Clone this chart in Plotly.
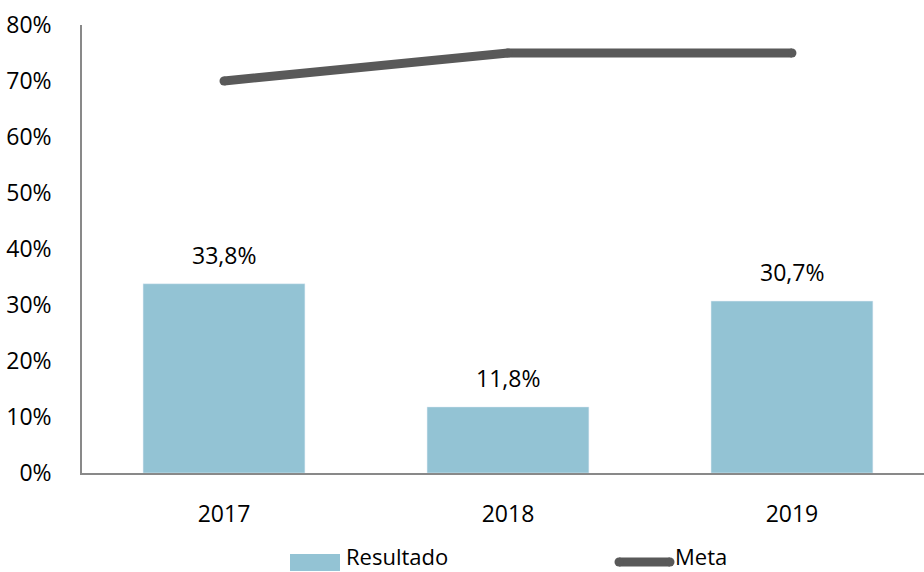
import plotly.graph_objects as go

years = ["2017", "2018", "2019"]
resultado = [33.8, 11.8, 30.7]
meta = [70, 75, 75]
y_ticks = [0, 10, 20, 30, 40, 50, 60, 70, 80]
y_tick_labels = ["0%", "10%", "20%", "30%", "40%", "50%", "60%", "70%", "80%"]

FONT = "Open Sans"
FS = 23
LEG_FS = 22
BAR_COLOR = "#93C3D4"
LINE_COLOR = "#595959"

W, H = 924, 572
L, T, B_AX, R_AX = 82, 25, 473, 924
PW, PH = R_AX - L, B_AX - T


def px(x):
    return (x - L) / PW


def py(y):
    return (B_AX - y) / PH


fig = go.Figure()
fig.add_trace(go.Bar(x=[0, 1, 2], y=resultado, name="Resultado", marker_color=BAR_COLOR,
                     width=0.57, showlegend=False))
fig.add_trace(go.Scatter(x=[0, 1, 2], y=meta, name="Meta", mode="lines+markers",
                         line=dict(color=LINE_COLOR, width=9),
                         marker=dict(color=LINE_COLOR, size=9, line_width=0),
                         showlegend=False))

for i, v in enumerate(resultado):
    fig.add_annotation(x=i, y=v, text=f"{v:.1f}".replace(".", ",") + "%", showarrow=False,
                       yanchor="bottom", yshift=11, font=dict(size=FS, color="#000"))

# legend (manual)
fig.add_shape(type="rect", xref="paper", yref="paper", x0=px(290), x1=px(340),
              y0=py(554), y1=py(571), fillcolor=BAR_COLOR, line_width=0)
fig.add_annotation(xref="paper", yref="paper", x=px(344), y=py(556), text="Resultado",
                   showarrow=False, xanchor="left", yanchor="middle",
                   font=dict(size=LEG_FS, color="#000"))
fig.add_shape(type="line", xref="paper", yref="paper", x0=px(619), x1=px(670),
              y0=py(562), y1=py(562), line=dict(color=LINE_COLOR, width=9))
for cx in (619, 670):
    fig.add_shape(type="circle", xref="paper", yref="paper", x0=px(cx - 4.5), x1=px(cx + 4.5),
                  y0=py(566.5), y1=py(557.5), fillcolor=LINE_COLOR, line_width=0)
fig.add_annotation(xref="paper", yref="paper", x=px(673), y=py(556), text="Meta",
                   showarrow=False, xanchor="left", yanchor="middle",
                   font=dict(size=LEG_FS, color="#000"))

fig.update_layout(
    width=W, height=H,
    margin=dict(l=L, r=W - R_AX, t=T, b=H - B_AX, pad=0),
    plot_bgcolor="white", paper_bgcolor="white",
    font=dict(family=FONT, size=FS, color="#000"),
    showlegend=False,
    xaxis=dict(range=[-0.5, 2.465], tickvals=[0, 1, 2], ticktext=years, showgrid=False,
               showline=True, linecolor="#898989", linewidth=1.5, ticks="", ticklabelstandoff=20,
               zeroline=False),
    yaxis=dict(range=[0, 80], tickvals=y_ticks, ticktext=y_tick_labels, showgrid=False,
               showline=True, linecolor="#898989", linewidth=1.5, ticks="", ticklabelstandoff=24,
               zeroline=False),
)

fig.write_html("out.html", config={"displayModeBar": False},
               post_script="document.body.style.margin='0';document.body.style.overflow='hidden';")
